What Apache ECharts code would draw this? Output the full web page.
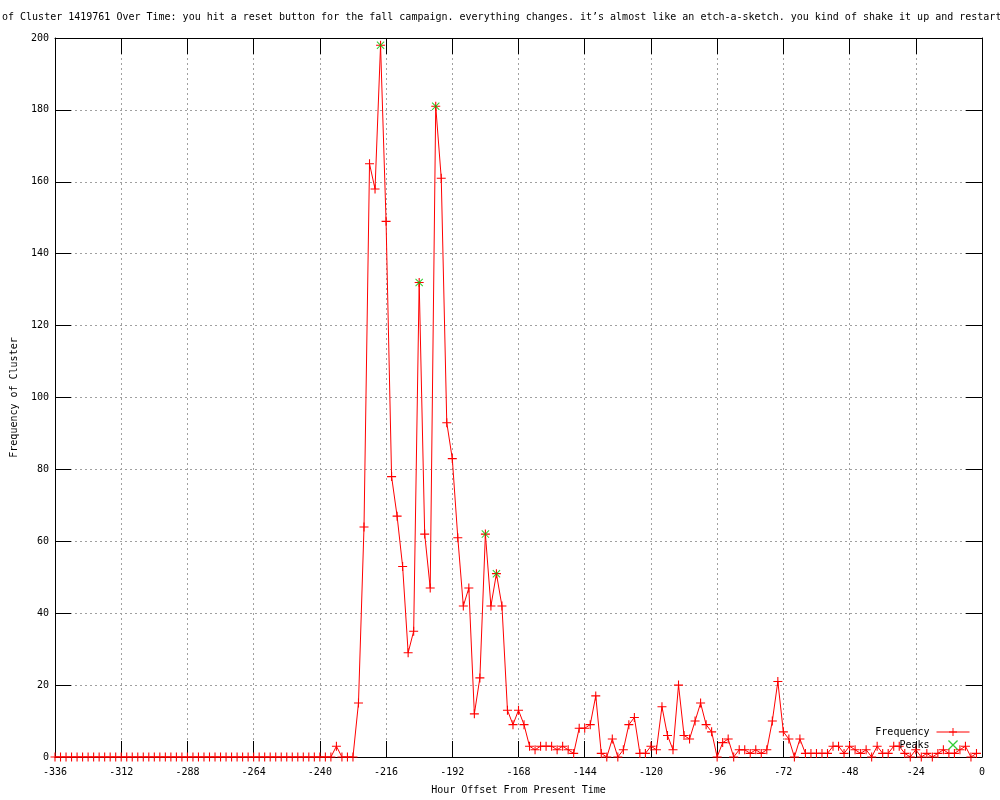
<!DOCTYPE html>
<html>
<head>
<meta charset="utf-8">
<script src="https://cdn.jsdelivr.net/npm/echarts@6/dist/echarts.min.js"></script>
<style>
html,body{margin:0;padding:0;background:#fff;}
#chart{width:1000px;height:800px;}
</style>
</head>
<body>
<div id="chart"></div>
<script>
var titleText = 'of Cluster 1419761 Over Time: you hit a reset button for the fall campaign. everything changes. it\u2019s almost like an etch-a-sketch. you kind of shake it up and restart';
var xName = 'Hour Offset From Present Time';
var yName = 'Frequency of Cluster';

var hours = [
-336,-334,-332,-330,-328,-326,-324,-322,-320,-318,-316,-314,
-312,-310,-308,-306,-304,-302,-300,-298,-296,-294,-292,-290,
-288,-286,-284,-282,-280,-278,-276,-274,-272,-270,-268,-266,
-264,-262,-260,-258,-256,-254,-252,-250,-248,-246,-244,-242,
-240,-238,-236,-234,-232,-230,-228,-226,-224,-222,-220,-218,
-216,-214,-212,-210,-208,-206,-204,-202,-200,-198,-196,-194,
-192,-190,-188,-186,-184,-182,-180,-178,-176,-174,-172,-170,
-168,-166,-164,-162,-160,-158,-156,-154,-152,-150,-148,-146,
-144,-142,-140,-138,-136,-134,-132,-130,-128,-126,-124,-122,
-120,-118,-116,-114,-112,-110,-108,-106,-104,-102,-100,-98,
-96,-94,-92,-90,-88,-86,-84,-82,-80,-78,-76,-74,
-72,-70,-68,-66,-64,-62,-60,-58,-56,-54,-52,-50,
-48,-46,-44,-42,-40,-38,-36,-34,-32,-30,-28,-26,
-24,-22,-20,-18,-16,-14,-12,-10,-8,-6,-4,-2
];
var frequency = [
0,0,0,0,0,0,0,0,0,0,0,0,
0,0,0,0,0,0,0,0,0,0,0,0,
0,0,0,0,0,0,0,0,0,0,0,0,
0,0,0,0,0,0,0,0,0,0,0,0,
0,0,0,3,0,0,0,15,64,165,158,198,
149,78,67,53,29,35,132,62,47,181,161,93,
83,61,42,47,12,22,62,42,51,42,13,9,
13,9,3,2,3,3,3,2,3,2,1,8,
8,9,17,1,0,5,0,2,9,11,1,1,
3,2,14,6,2,20,6,5,10,15,9,7,
0,4,5,0,2,2,1,2,1,2,10,21,
7,5,0,5,1,1,1,1,1,3,3,1,
3,2,1,2,0,3,1,1,3,3,1,0,
2,0,1,0,1,2,1,1,2,3,0,1
];
var peakHours = [-218, -204, -198, -180, -176];
var peakValues = [198, 132, 181, 62, 51];

var freqData = hours.map(function (h, i) { return [h, frequency[i]]; });
var peakData = peakHours.map(function (h, i) { return [h, peakValues[i]]; });

var FONT = 'DejaVu Sans Mono';
var plusPath = 'path://M4.4,0H5.6V4.4H10V5.6H5.6V10H4.4V5.6H0V4.4H4.4Z';
var xPath = 'path://M0,0.9L0.9,0L10,9.1L9.1,10Z M9.1,0L10,0.9L0.9,10L0,9.1Z';

var chart = echarts.init(document.getElementById('chart'), null, {renderer: 'canvas'});
var gridLine = {show: true, lineStyle: {color: '#a0a0a0', width: 1, type: [2, 3]}};
var tick = {show: true, inside: true, length: 16, lineStyle: {color: '#000', width: 1}};
var axLine = {show: true, onZero: false, lineStyle: {color: '#000', width: 1}};
var lab = {color: '#000', fontFamily: FONT, fontSize: 10};

chart.setOption({
  animation: false,
  backgroundColor: '#fff',
  title: {
    text: titleText,
    left: 2, top: 12, padding: 0,
    textStyle: {fontFamily: FONT, fontSize: 10, fontWeight: 'normal', color: '#000'}
  },
  grid: {left: 55, right: 18, top: 38, bottom: 40, containLabel: false},
  legend: {
    orient: 'vertical',
    right: 30, top: 727,
    align: 'right',
    itemWidth: 33, itemHeight: 10, itemGap: 3,
    padding: 0,
    lineStyle: {width: 1},
    textStyle: {fontFamily: FONT, fontSize: 10, color: '#000', padding: [0, 2, 0, 0]},
    data: ['Frequency', 'Peaks']
  },
  xAxis: [{
    type: 'value', position: 'bottom',
    min: -336, max: 0, interval: 24,
    axisLine: axLine, axisTick: tick, splitLine: gridLine,
    axisLabel: Object.assign({margin: 10}, lab),
    name: xName, nameLocation: 'middle', nameGap: 28,
    nameTextStyle: {fontFamily: FONT, fontSize: 10, color: '#000'}
  }, {
    type: 'value', position: 'top',
    min: -336, max: 0, interval: 24,
    axisLine: axLine, axisTick: tick, splitLine: {show: false},
    axisLabel: {show: false}
  }],
  yAxis: [{
    type: 'value', position: 'left',
    min: 0, max: 200, interval: 20,
    axisLine: axLine, axisTick: tick, splitLine: gridLine,
    axisLabel: Object.assign({margin: 6}, lab),
    name: yName, nameLocation: 'middle', nameGap: 36,
    nameTextStyle: {fontFamily: FONT, fontSize: 10, color: '#000'}
  }, {
    type: 'value', position: 'right',
    min: 0, max: 200, interval: 20,
    axisLine: axLine, axisTick: tick, splitLine: {show: false},
    axisLabel: {show: false}
  }],
  series: [{
    name: 'Frequency',
    type: 'line',
    data: freqData,
    symbol: plusPath,
    symbolSize: 9,
    showAllSymbol: true,
    itemStyle: {color: '#ff0000'},
    lineStyle: {color: '#ff0000', width: 1},
    z: 3
  }, {
    name: 'Peaks',
    type: 'scatter',
    data: peakData,
    symbol: xPath,
    symbolSize: 8,
    itemStyle: {color: '#00c000'},
    z: 4
  }]
});
</script>
</body>
</html>
